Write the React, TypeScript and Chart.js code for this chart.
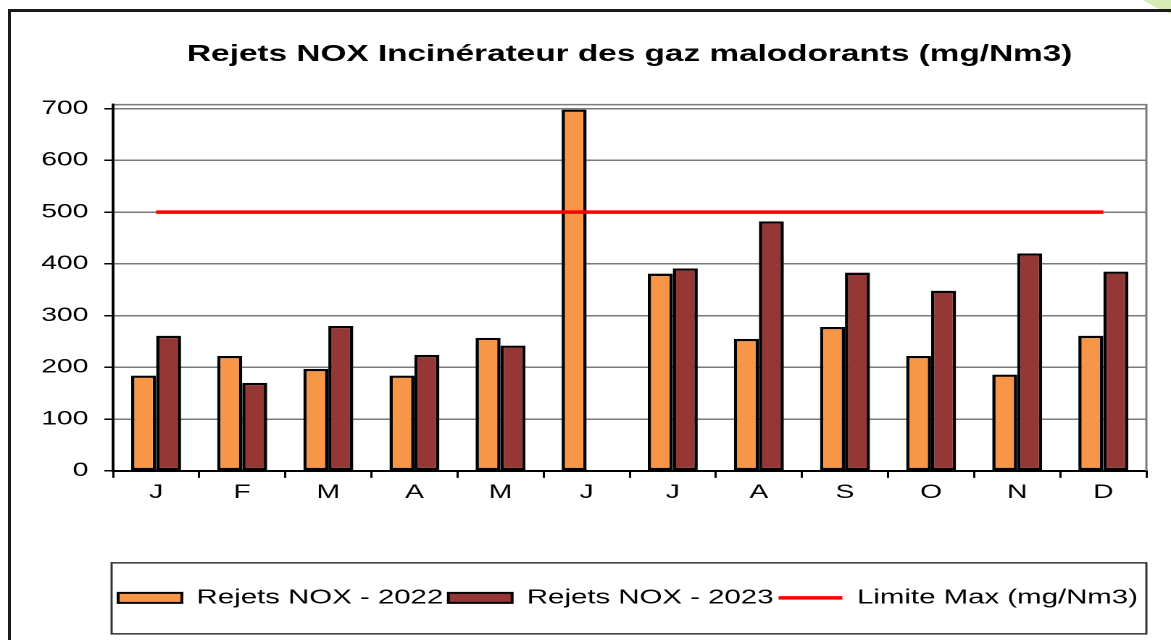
import React, { useEffect, useRef } from "react";
import { Chart, registerables } from "chart.js";

Chart.register(...registerables);

const months = ["J", "F", "M", "A", "M", "J", "J", "A", "S", "O", "N", "D"];
const nox2022 = [184, 222, 197, 184, 257, 698, 381, 255, 278, 222, 186, 261];
const nox2023 = [261, 170, 280, 224, 242, null, 391, 482, 383, 348, 420, 385];
const limiteMax = [500, 500, 500, 500, 500, 500, 500, 500, 500, 500, 500, 500];
const yTicks = [0, 100, 200, 300, 400, 500, 600, 700];

const titleText = "Rejets NOX Incinérateur des gaz malodorants (mg/Nm3)";
const seriesNames = ["Rejets NOX - 2022", "Rejets NOX - 2023", "Limite Max (mg/Nm3)"];

const FONT = "'Liberation Sans', Arial, Helvetica, sans-serif";
const INNER_W = 808;
const SCALE_X = 1171 / INNER_W;
const LEG_PAD = 3.5;
const LEG_FONT = 20.3;

const frame = {
  id: "frame",
  afterDraw(chart: any) {
    const { ctx, chartArea, legend } = chart;
    const { left, right, top, bottom } = chartArea;
    ctx.save();
    ctx.strokeStyle = "#7a7a7a";
    ctx.lineWidth = 1.5;
    ctx.beginPath();
    ctx.moveTo(left, top - 4);
    ctx.lineTo(right, top - 4);
    ctx.lineTo(right, bottom);
    ctx.stroke();
    ctx.strokeStyle = "#000";
    ctx.lineWidth = 2;
    ctx.beginPath();
    ctx.moveTo(left, top - 5);
    ctx.lineTo(left, top + 1);
    ctx.stroke();
    if (legend) {
      const cy = legend.top + LEG_PAD + LEG_FONT / 2;
      ctx.strokeStyle = "#333";
      ctx.lineWidth = 1.5;
      ctx.strokeRect(left - 1, cy - 35, right - left + 1, 71);
    }
    ctx.restore();
  },
};

export default function App() {
  const ref = useRef<HTMLCanvasElement | null>(null);

  useEffect(() => {
    if (!ref.current) return;
    const chart = new Chart(ref.current, {
      type: "bar",
      data: {
        labels: months,
        datasets: [
          {
            type: "bar",
            label: seriesNames[0],
            data: nox2022,
            backgroundColor: "#F79646",
            borderColor: "#000",
            borderWidth: 2.3,
            borderSkipped: false,
            categoryPercentage: 0.58,
            barPercentage: 1.0,
            order: 1,
          },
          {
            type: "bar",
            label: seriesNames[1],
            data: nox2023 as any,
            backgroundColor: "#953735",
            borderColor: "#000",
            borderWidth: 2.3,
            borderSkipped: false,
            categoryPercentage: 0.58,
            barPercentage: 1.0,
            order: 1,
          },
          {
            type: "line",
            label: seriesNames[2],
            data: limiteMax,
            borderColor: "#FF0000",
            backgroundColor: "#FF0000",
            borderWidth: 3.5,
            pointRadius: 0,
            fill: false,
            order: 0,
          } as any,
        ],
      },
      options: {
        animation: false,
        responsive: true,
        maintainAspectRatio: false,
        devicePixelRatio: 2,
        layout: { padding: { left: 0, right: 17, top: 0, bottom: 22 } },
        plugins: {
          tooltip: { enabled: false },
          title: {
            display: true,
            text: titleText,
            fullSize: false,
            color: "#000",
            font: { family: FONT, size: 23, weight: "bold" },
            padding: { top: 41, bottom: 40 },
          },
          legend: {
            display: true,
            position: "bottom",
            align: "start",
            fullSize: false,
            labels: {
              color: "#000",
              font: { family: FONT, size: LEG_FONT },
              padding: LEG_PAD,
              boxHeight: 10,
              usePointStyle: true,
              pointStyleWidth: 44,
              generateLabels: (ch: any) =>
                ch.data.datasets.map((ds: any, i: number) => ({
                  text: ds.label,
                  datasetIndex: i,
                  fillStyle: ds.backgroundColor,
                  strokeStyle: i === 2 ? "#FF0000" : "#000",
                  lineWidth: i === 2 ? 3.5 : 2,
                  pointStyle: i === 2 ? "line" : "rect",
                  hidden: false,
                  fontColor: "#000",
                })),
            },
          },
        },
        scales: {
          x: {
            type: "category",
            offset: true,
            grid: {
              display: true,
              drawOnChartArea: false,
              drawTicks: true,
              tickLength: 7,
              color: "#000",
              lineWidth: 1.5,
              offset: true,
            },
            border: { display: true, color: "#000", width: 2 },
            ticks: { color: "#000", font: { family: FONT, size: 19.5 }, padding: 3, maxRotation: 0, autoSkip: false },
            afterFit: (scale: any) => {
              scale.height = 598 - 471 - LEG_PAD - LEG_FONT / 2;
            },
          },
          y: {
            min: 0,
            max: 700,
            afterBuildTicks: (scale: any) => {
              scale.ticks = yTicks.map((v) => ({ value: v }));
            },
            grid: {
              color: "#7a7a7a",
              lineWidth: 1.5,
              drawTicks: true,
              tickLength: 6,
              tickColor: "#000",
            },
            border: { display: true, color: "#000", width: 2 },
            ticks: { color: "#000", font: { family: FONT, size: 19.5 }, padding: 11 },
            afterFit: (scale: any) => {
              scale.width = 78;
            },
          },
        },
      } as any,
      plugins: [frame],
    });
    return () => chart.destroy();
  }, []);

  return (
    <div
      style={{
        position: "absolute",
        left: 0,
        top: 0,
        width: 1171,
        height: 640,
        overflow: "hidden",
        background: "#fff",
      }}
    >
      <div
        style={{
          position: "absolute",
          left: 1102,
          top: -178,
          width: 196,
          height: 196,
          borderRadius: "50%",
          background: "#d5ecb3",
        }}
      />
      <div
        style={{
          position: "absolute",
          left: 8,
          top: 9,
          width: 1200,
          height: 700,
          border: "3px solid #1a1a1a",
          boxSizing: "border-box",
        }}
      />
      <div
        style={{
          position: "absolute",
          left: 0,
          top: 0,
          width: INNER_W,
          height: 640,
          transform: `scaleX(${SCALE_X})`,
          transformOrigin: "0 0",
        }}
      >
        <canvas ref={ref} />
      </div>
    </div>
  );
}
